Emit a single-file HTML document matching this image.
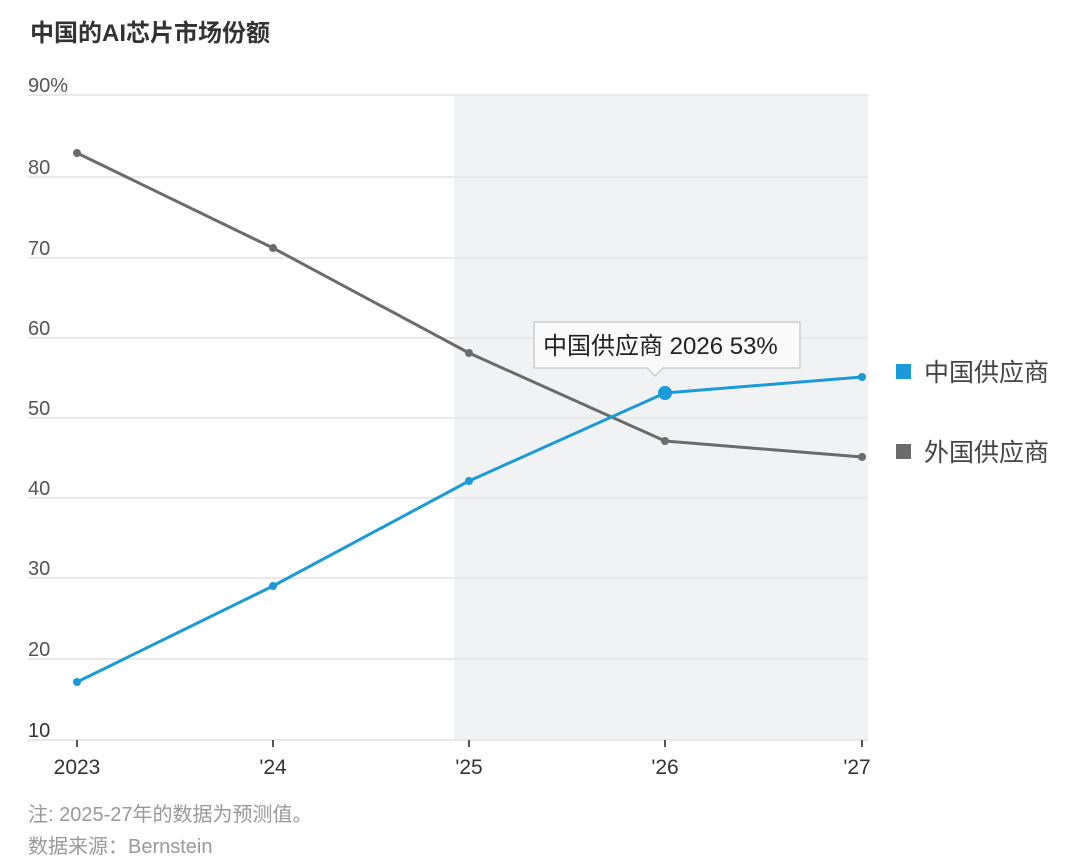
<!DOCTYPE html>
<html><head><meta charset="utf-8"><style>
body{margin:0;background:#fff;}
svg text{font-family:"Liberation Sans","Noto Sans CJK SC",sans-serif;}
</style></head><body>
<svg width="1080" height="859" xmlns="http://www.w3.org/2000/svg">
<rect width="1080" height="859" fill="#fff"/>
<text x="30" y="41" font-size="24" font-weight="bold" fill="#333">中国的AI芯片市场份额</text>
<rect x="454" y="95" width="414" height="645" fill="#f1f2f4"/>
<g stroke="#e8e8e8" stroke-width="2">
<line x1="28" y1="95" x2="868" y2="95"/><line x1="28" y1="177" x2="868" y2="177"/>
<line x1="28" y1="258" x2="868" y2="258"/><line x1="28" y1="338" x2="868" y2="338"/>
<line x1="28" y1="418" x2="868" y2="418"/><line x1="28" y1="498" x2="868" y2="498"/>
<line x1="28" y1="578" x2="868" y2="578"/><line x1="28" y1="659" x2="868" y2="659"/>
<line x1="28" y1="740" x2="868" y2="740"/>
</g>
<g font-size="20" fill="#555">
<text x="28" y="92">90%</text><text x="28" y="174">80</text><text x="28" y="255">70</text>
<text x="28" y="335">60</text><text x="28" y="415">50</text><text x="28" y="495">40</text>
<text x="28" y="575">30</text><text x="28" y="656">20</text><text x="28" y="737" fill="#333">10</text>
</g>
<g stroke="#555" stroke-width="2">
<line x1="77" y1="740" x2="77" y2="747"/><line x1="273" y1="740" x2="273" y2="747"/>
<line x1="469" y1="740" x2="469" y2="747"/><line x1="665" y1="740" x2="665" y2="747"/>
<line x1="862" y1="740" x2="862" y2="747"/>
</g>
<g font-size="21" fill="#333" text-anchor="middle">
<text x="77" y="774">2023</text><text x="273" y="774">'24</text><text x="469" y="774">'25</text>
<text x="665" y="774">'26</text><text x="857" y="774">'27</text>
</g>
<polyline points="77,153 273,248 469,353 665,441 862,457" fill="none" stroke="#6b6b6b" stroke-width="3"/>
<g fill="#6b6b6b"><circle cx="77" cy="153" r="4"/><circle cx="273" cy="248" r="4"/><circle cx="469" cy="353" r="4"/><circle cx="665" cy="441" r="4"/><circle cx="862" cy="457" r="4"/></g>
<polyline points="77,682 273,586 469,481 665,393 862,377" fill="none" stroke="#1a9ad6" stroke-width="3"/>
<g fill="#1a9ad6"><circle cx="77" cy="682" r="4"/><circle cx="273" cy="586" r="4"/><circle cx="469" cy="481" r="4"/><circle cx="665" cy="393" r="7"/><circle cx="862" cy="377" r="4"/></g>
<path d="M534,322 H800 V368 H663 L655,376 L647,368 H534 Z" fill="#fafafa" stroke="#ccc" stroke-width="1.5"/>
<text x="543" y="354" font-size="24" fill="#222">中国供应商 2026 53%</text>
<rect x="896" y="364" width="15" height="15" fill="#1a9ad6"/>
<text x="924" y="381" font-size="25" fill="#444">中国供应商</text>
<rect x="896" y="444" width="15" height="15" fill="#6b6b6b"/>
<text x="924" y="461" font-size="25" fill="#444">外国供应商</text>
<text x="28" y="821" font-size="20" fill="#999">注: 2025-27年的数据为预测值。</text>
<text x="28" y="853" font-size="20" fill="#999">数据来源：Bernstein</text>
</svg>
</body></html>
